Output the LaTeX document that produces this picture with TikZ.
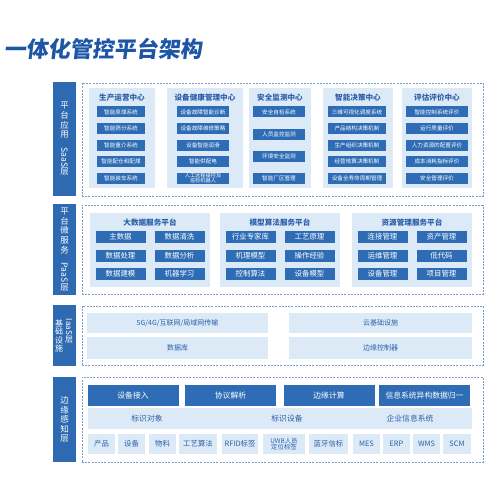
\documentclass[tikz,border=0pt]{standalone}
\usepackage{fontspec}
\usepackage{graphicx}
\setmainfont{Noto Sans CJK SC}
\newfontfamily\titlefont[FakeSlant=0.12]{Noto Sans CJK SC}
\usetikzlibrary{calc}

\definecolor{itemblue}{HTML}{2E6DB5}
\definecolor{lblblue}{HTML}{2E6AB1}
\definecolor{paleblue}{HTML}{DCEAF7}
\definecolor{edgeblue}{HTML}{7C9CC9}
\definecolor{txtblue}{HTML}{2B5FA9}
\definecolor{ttlblue}{HTML}{1D56A5}

\tikzset{
  layerlbl/.style={fill=lblblue, text=white, inner sep=0pt, align=center,
    font=\fontsize{8.5}{9.6}\selectfont},
  zone/.style={draw=edgeblue, dash pattern=on 2pt off 1.2pt, line width=0.8pt, inner sep=0pt},
  panel/.style={fill=paleblue, inner sep=0pt, align=center},
  item/.style={fill=itemblue, text=white, inner sep=0pt, align=center},
  paneltitle/.style={text=txtblue, inner sep=0pt, font=\bfseries\fontsize{7.6}{9}\selectfont},
  paletext/.style={text=txtblue, inner sep=0pt, align=center}
}

\begin{document}
\begin{tikzpicture}[x=1pt, y=-1pt]
  \useasboundingbox (0,0) rectangle (500,500);

  % title
  \node[anchor=west, text=ttlblue, inner sep=0pt,
    font=\titlefont\bfseries\fontsize{22}{24}\selectfont] (title) at (4,49) {一体化管控平台架构};

  % layer labels
  \node[layerlbl, minimum width=23, minimum height=114] (saasLbl) at (64.5,139)
    {平\\台\\应\\用\\\rotatebox{-90}{SaaS}\\层};
  \node[layerlbl, minimum width=23, minimum height=91] (paasLbl) at (64.5,249.5)
    {平\\台\\微\\服\\务\\\rotatebox{-90}{PaaS}\\层};
  \node[layerlbl, minimum width=23, minimum height=61] (iaasLbl) at (64.5,335.5) {};
  \node[text=white, inner sep=0pt, align=center, font=\fontsize{8}{8.6}\selectfont]
    (iaasA) at (59,336) {基\\础\\设\\施};
  \node[text=white, inner sep=0pt, align=center, font=\fontsize{8}{8.6}\selectfont]
    (iaasB) at (69,331) {\rotatebox{-90}{IaaS}\\层};
  \node[layerlbl, minimum width=23, minimum height=85] (edgeLbl) at (64.5,419.5)
    {边\\缘\\感\\知\\层};

  % dashed zones
  \node[zone, minimum width=401, minimum height=113] (saasZone) at (282.5,139.5) {};
  \node[zone, minimum width=401, minimum height=89] (paasZone) at (282.5,249.5) {};
  \node[zone, minimum width=401, minimum height=59] (iaasZone) at (282.5,335.5) {};
  \node[zone, minimum width=401, minimum height=85] (edgeZone) at (282.5,419.5) {};

  % SaaS layer
  \foreach \cx/\pw/\nm/\ttl in {122/66/prod/生产运营中心, 205/76/hlth/设备健康管理中心,
      280/62/safe/安全监测中心, 358/70/deci/智能决策中心, 437/70/eval/评估评价中心} {
    \node[panel, minimum width=\pw, minimum height=100] (\nm) at (\cx,138) {};
    \node[paneltitle] (\nm T) at (\cx,97.5) {\ttl};
  }
  \tikzset{saasitem/.style={item, minimum height=11, font=\fontsize{5.6}{6}\selectfont}}
  \foreach \t [count=\i] in {智能原煤系统, 智能筛分系统, 智能重介系统, 智能配仓和配煤, 智能装车系统}
    \node[saasitem, minimum width=48] (prod\i) at (121,95.5+16.5*\i) {\t};
  \foreach \t [count=\i] in {设备故障智能诊断, 设备故障维修策略, 设备智能润滑, 智能供配电}
    \node[saasitem, minimum width=52] (hlth\i) at (203,95.5+16.5*\i) {\t};
  \node[saasitem, minimum width=52, font=\fontsize{5.2}{5.6}\selectfont] (hlth5) at (203,178)
    {人工远程操控及\\巡检机器人};
  \foreach \t [count=\i] in {安全自检系统, 人员监控监测, 环境安全监测, 智能厂区管理}
    \node[saasitem, minimum width=52] (safe\i) at (279,90+22*\i) {\t};
  \foreach \t [count=\i] in {三维可视化调度系统, 产品结构决策机制, 生产组织决策机制, 经营核算决策机制, 设备全寿命周期管理}
    \node[saasitem, minimum width=58] (deci\i) at (357,95.5+16.5*\i) {\t};
  \foreach \t [count=\i] in {智能控制系统评价, 运行质量评价, 人力资源的配置评价, 成本消耗指标评价, 安全管理评价}
    \node[saasitem, minimum width=62] (eval\i) at (437,95.5+16.5*\i) {\t};

  % PaaS layer
  \foreach \cx/\nm/\ttl in {150/bigd/大数据服务平台, 280/algo/模型算法服务平台, 412/resm/资源管理服务平台} {
    \node[panel, minimum width=120, minimum height=74] (\nm) at (\cx,250) {};
    \node[paneltitle] (\nm T) at (\cx,223) {\ttl};
  }
  \tikzset{paasitem/.style={item, minimum width=50, minimum height=12, font=\fontsize{7.4}{8}\selectfont}}
  \foreach \a/\b [count=\i] in {主数据/数据清洗, 数据处理/数据分析, 数据建模/机器学习} {
    \node[paasitem] (bigd\i a) at (120.5,218.5+18.5*\i) {\a};
    \node[paasitem] (bigd\i b) at (179.5,218.5+18.5*\i) {\b};
  }
  \foreach \a/\b [count=\i] in {行业专家库/工艺原理, 机理模型/操作经验, 控制算法/设备模型} {
    \node[paasitem] (algo\i a) at (250.5,218.5+18.5*\i) {\a};
    \node[paasitem] (algo\i b) at (309.5,218.5+18.5*\i) {\b};
  }
  \foreach \a/\b [count=\i] in {连接管理/资产管理, 运维管理/低代码, 设备管理/项目管理} {
    \node[paasitem] (resm\i a) at (382.5,218.5+18.5*\i) {\a};
    \node[paasitem] (resm\i b) at (441.5,218.5+18.5*\i) {\b};
  }

  % IaaS layer
  \tikzset{iaasbar/.style={panel, text=txtblue, font=\fontsize{7}{8}\selectfont}}
  \node[iaasbar, minimum width=181, minimum height=20] (net) at (177.5,323) {5G/4G/互联网/局域网传输};
  \node[iaasbar, minimum width=181, minimum height=22] (dbase) at (177.5,348) {数据库};
  \node[iaasbar, minimum width=183, minimum height=20] (cloud) at (380.5,323) {云基础设施};
  \node[iaasbar, minimum width=183, minimum height=22] (ectl) at (380.5,348) {边缘控制器};

  % edge layer
  \tikzset{edgeitem/.style={item, minimum width=91, minimum height=21, font=\fontsize{7.8}{9}\selectfont}}
  \node[edgeitem] (access) at (133,395.5) {设备接入};
  \node[edgeitem] (proto) at (230.5,395.5) {协议解析};
  \node[edgeitem] (ecomp) at (329,395.5) {边缘计算};
  \node[edgeitem] (unify) at (424.5,395.5) {信息系统异构数据归一};
  \node[panel, minimum width=384, minimum height=21] (idrow) at (280,418.5) {};
  \node[paletext, font=\fontsize{7.8}{9}\selectfont] (idobj) at (147,418.5) {标识对象};
  \node[paletext, font=\fontsize{7.8}{9}\selectfont] (iddev) at (287,418.5) {标识设备};
  \node[paletext, font=\fontsize{7.8}{9}\selectfont] (entsys) at (410,418.5) {企业信息系统};
  \tikzset{srcbox/.style={panel, text=txtblue, minimum height=20, font=\fontsize{7.4}{8}\selectfont}}
  \foreach \l/\r/\t [count=\i] in {88/115/产品, 118/145/设备, 149/176/物料, 179/217/工艺算法,
      222/258/RFID标签, 309/348/蓝牙信标, 353/380/MES, 383/410/ERP, 413/440/WMS, 443/471/SCM}
    \node[srcbox, minimum width=\r-\l] (src\i) at ({(\l+\r)/2},444) {\t};
  \node[srcbox, minimum width=42, font=\fontsize{6.4}{6.8}\selectfont] (uwb) at (284,444) {UWB人员\\定位标签};
\end{tikzpicture}
\end{document}
